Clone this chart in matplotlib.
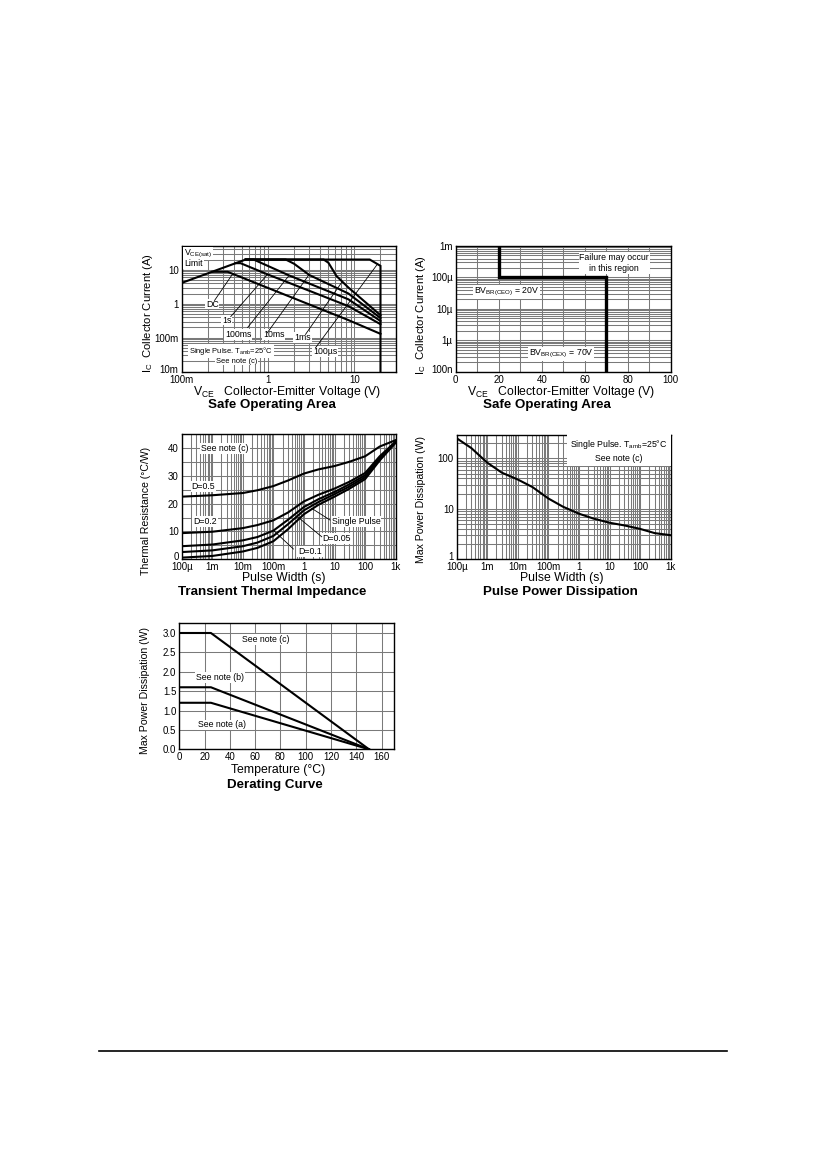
import numpy as np
import matplotlib.pyplot as plt
from matplotlib.ticker import LogLocator, MultipleLocator, NullFormatter
from matplotlib.lines import Line2D
from matplotlib.transforms import ScaledTranslation

plt.rcParams['font.family'] = ['Liberation Sans', 'DejaVu Sans']
plt.rcParams['mathtext.default'] = 'regular'

# ---- data ----
# safe operating area (log V, log I)
soa_100us_v = [0.1, 0.55, 15, 20, 20]
soa_100us_i = [4.1, 20, 20, 13, 0.01]
soa_1ms_v = [0.55, 4.4, 5.0, 6.2, 8.5, 20]
soa_1ms_i = [20, 20, 16, 6.5, 3.0, 0.46]
soa_10ms_v = [0.55, 1.6, 2.0, 3.0, 8.5, 20]
soa_10ms_i = [20, 20, 15, 7.0, 2.0, 0.38]
soa_100ms_v = [0.55, 0.68, 1.75, 8.5, 20]
soa_100ms_i = [20, 20, 6.8, 1.35, 0.31]
soa_1s_v = [0.42, 0.48, 1.0, 8.5, 20]
soa_1s_i = [15.6, 15.6, 7.2, 0.85, 0.25]
soa_dc_v = [0.224, 0.34, 8.5, 20]
soa_dc_i = [8.7, 8.7, 0.33, 0.13]

# breakdown boundary (linear V, log I)
bv_v = [20, 20, 70, 70]
bv_i = [1e-3, 1e-4, 1e-4, 1e-7]

# transient thermal impedance
tz_t = [1e-4, 1e-3, 1e-2, 3e-2, 1e-1, 3e-1, 1, 3, 10, 30, 100, 300, 1e3]
tz_d05 = [22.5, 23.0, 23.8, 24.8, 26.3, 28.3, 30.8, 32.3, 33.5, 35.0, 37.0, 40.5, 42.8]
tz_d02 = [9.4, 9.9, 11.2, 12.3, 14.0, 16.8, 20.8, 23.2, 25.4, 27.8, 31.0, 37.0, 42.3]
tz_d01 = [4.7, 5.3, 6.8, 8.0, 10.3, 14.2, 18.8, 21.6, 24.2, 26.9, 30.2, 36.5, 42.1]
tz_d005 = [2.6, 3.2, 4.7, 6.0, 8.4, 12.6, 17.6, 20.6, 23.4, 26.1, 29.5, 36.0, 42.0]
tz_single = [0.6, 1.2, 2.8, 4.1, 6.5, 10.8, 16.2, 19.6, 22.5, 25.3, 28.8, 35.5, 41.9]

# pulse power dissipation
pp_t = [1e-4, 3e-4, 1e-3, 3e-3, 1e-2, 3e-2, 1e-1, 3e-1, 1, 3, 10, 30, 100, 300, 1e3]
pp_p = [250, 160, 82, 52, 38, 27, 16, 11, 8.0, 6.4, 5.3, 4.7, 4.0, 3.3, 3.0]

# derating
der_t = [0, 25, 150]
der_c = [3.0, 3.0, 0]
der_b = [1.6, 1.6, 0]
der_a = [1.2, 1.2, 0]

log_t_ticks = [1e-4, 1e-3, 1e-2, 1e-1, 1, 10, 100, 1e3]
log_t_labels = ['100µ', '1m', '10m', '100m', '1', '10', '100', '1k']

W, H = 826, 1169
fig = plt.figure(figsize=(W / 100, H / 100), dpi=100)

GRID = dict(color='#7a7a7a', lw=0.75)
BOX = dict(fc='white', ec='none', pad=0.6)
TICK = 7
XLAB = 8.8
YLAB = 7.6
TITLE = 9.6
ANN = 6.3      # annotation size on most charts
ANN_C = 6.3    # curve labels on the left SOA chart
ANN_S = 5.4    # pulse / note text on the left SOA chart


def rect(l, r, t, b):
    return [l / W, 1 - b / H, (r - l) / W, (b - t) / H]


def ftext(x, y, s, **kw):
    fig.text(x / W, 1 - y / H, s, ha='center', va='center', **kw)


def base(ax):
    for sp in ax.spines.values():
        sp.set_linewidth(1.0)
    ax.tick_params(which='both', length=0, labelsize=TICK, pad=2.2)
    ax.set_axisbelow(True)


def logminor(axis):
    axis.set_minor_locator(LogLocator(base=10, subs=np.arange(2, 10), numticks=30))
    axis.set_minor_formatter(NullFormatter())


def lift_bottom_label(ax, dy=3):
    # the lowest y tick label sits a little above the corner, clear of the x labels
    lab = ax.yaxis.get_major_ticks()[0].label1
    lab.set_transform(lab.get_transform() + ScaledTranslation(0, dy / 100, fig.dpi_scale_trans))


# ---- Safe operating area (log) ----
ax1 = fig.add_axes(rect(181.7, 395.7, 246, 371.7))
base(ax1)
ax1.set_xscale('log'); ax1.set_yscale('log')
ax1.set_xlim(0.1, 30); ax1.set_ylim(0.01, 50)
ax1.set_xticks([0.1, 1, 10], ['100m', '1', '10'])
ax1.set_yticks([0.01, 0.1, 1, 10], ['10m', '100m', '1', '10'])
logminor(ax1.xaxis); logminor(ax1.yaxis)
ax1.grid(which='both', **GRID)
lift_bottom_label(ax1)
for v, i in [(soa_100us_v, soa_100us_i), (soa_1ms_v, soa_1ms_i), (soa_10ms_v, soa_10ms_i),
             (soa_100ms_v, soa_100ms_i), (soa_1s_v, soa_1s_i), (soa_dc_v, soa_dc_i)]:
    ax1.plot(v, i, color='black', lw=1.5, zorder=4, solid_joinstyle='miter')
# leader lines from labels to curves
leaders = [((0.24, 1.25), (0.39, 7.6)), ((0.37, 0.42), (0.98, 7.2)),
           ((0.58, 0.2), (1.75, 6.8)), ((0.98, 0.14), (2.96, 7.0)),
           ((2.71, 0.125), (7.13, 4.3)), ((3.53, 0.05), (18.4, 14.5))]
for (x0, y0), (x1, y1) in leaders:
    ax1.plot([x0, x1], [y0, y1], color='black', lw=0.6, zorder=4)
ax1.text(0.107, 30, r'V$_{CE(sat)}$', fontsize=ANN_C, va='center', bbox=BOX, zorder=3)
ax1.text(0.107, 15.0, 'Limit', fontsize=ANN_C, va='center', bbox=BOX, zorder=3)
for s, x, y in [('DC', 0.225, 0.98), ('1s', 0.33, 0.33), ('100ms', 0.45, 0.122),
                ('10ms', 1.16, 0.122), ('1ms', 2.5, 0.1), ('100µs', 4.6, 0.040)]:
    ax1.text(x, y, s, fontsize=ANN_C, ha='center', va='center', bbox=BOX, zorder=3)
ax1.text(0.374, 0.040, r'Single Pulse. T$_{amb}$=25°C', fontsize=ANN_S, ha='center',
         va='center', bbox=BOX, zorder=3)
ax1.text(0.43, 0.0205, 'See note (c)', fontsize=ANN_S, ha='center', va='center', bbox=BOX, zorder=3)
ftext(148, 313, r'I$_C$  Collector Current (A)', fontsize=8.1, rotation=90)
ftext(286.7, 392.5, r'V$_{CE}$   Collector-Emitter Voltage (V)', fontsize=XLAB)
ftext(272.3, 405, 'Safe Operating Area', fontsize=TITLE, fontweight='bold')

# ---- Safe operating area (linear V) ----
ax2 = fig.add_axes(rect(455.7, 670.7, 246, 371.7))
base(ax2)
ax2.set_yscale('log')
ax2.set_xlim(0, 100); ax2.set_ylim(1e-7, 1e-3)
ax2.set_xticks(range(0, 101, 20))
ax2.xaxis.set_minor_locator(MultipleLocator(10))
ax2.set_yticks([1e-7, 1e-6, 1e-5, 1e-4, 1e-3], ['100n', '1µ', '10µ', '100µ', '1m'])
logminor(ax2.yaxis)
ax2.grid(which='both', **GRID)
lift_bottom_label(ax2)
ax2.plot(bv_v, bv_i, color='black', lw=2.4, zorder=4, solid_joinstyle='miter')
ax2.text(73.8, 2.88e-4, 'Failure may occur\nin this region', fontsize=ANN, ha='center',
         va='center', linespacing=1.25, bbox=BOX, zorder=3)
ax2.text(23.7, 3.5e-5, r'BV$_{BR(CEO)}$ = 20V', fontsize=ANN, ha='center', va='center',
         bbox=BOX, zorder=3)
ax2.text(49, 3.6e-7, r'BV$_{BR(CEX)}$ = 70V', fontsize=ANN, ha='center', va='center',
         bbox=BOX, zorder=3)
ftext(421, 315, r'I$_C$  Collector Current (A)', fontsize=8.1, rotation=90)
ftext(560.7, 392.5, r'V$_{CE}$   Collector-Emitter Voltage (V)', fontsize=XLAB)
ftext(546.7, 405, 'Safe Operating Area', fontsize=TITLE, fontweight='bold')

# ---- Transient thermal impedance ----
ax3 = fig.add_axes(rect(181.7, 395.7, 434, 559.3))
base(ax3)
ax3.set_xscale('log')
ax3.set_xlim(1e-4, 1e3); ax3.set_ylim(0, 45)
ax3.set_xticks(log_t_ticks, log_t_labels)
logminor(ax3.xaxis)
ax3.set_yticks(range(0, 41, 10))
ax3.yaxis.set_minor_locator(MultipleLocator(5))
ax3.grid(which='both', **GRID)
lift_bottom_label(ax3)
for r in [tz_d05, tz_d02, tz_d01, tz_d005, tz_single]:
    ax3.plot(tz_t, r, color='black', lw=1.5, zorder=4)
for (x0, y0), (x1, y1) in [((7.1, 14.1), (1.79, 18.3)), ((3.8, 8.1), (0.58, 15.5)),
                           ((0.45, 3.7), (0.1, 10.4))]:
    ax3.plot([x0, x1], [y0, y1], color='black', lw=0.6, zorder=4)
for s, x, y in [('See note (c)', 2.6e-3, 39.9), ('D=0.5', 5.1e-4, 26.1), ('D=0.2', 5.8e-4, 13.5),
                ('Single Pulse', 50, 13.5), ('D=0.05', 11.7, 7.5), ('D=0.1', 1.57, 2.7)]:
    ax3.text(x, y, s, fontsize=ANN, ha='center', va='center', bbox=BOX, zorder=3)
ftext(146, 511, 'Thermal Resistance (°C/W)', fontsize=YLAB, rotation=90)
ftext(284, 578, 'Pulse Width (s)', fontsize=XLAB)
ftext(272.3, 592, 'Transient Thermal Impedance', fontsize=TITLE, fontweight='bold')

# ---- Pulse power dissipation ----
ax4 = fig.add_axes(rect(456.7, 670.7, 435, 559.3))
base(ax4)
ax4.set_xscale('log'); ax4.set_yscale('log')
ax4.set_xlim(1e-4, 1e3); ax4.set_ylim(1, 290)
ax4.set_xticks(log_t_ticks, log_t_labels)
ax4.set_yticks([1, 10, 100], ['1', '10', '100'])
logminor(ax4.xaxis); logminor(ax4.yaxis)
ax4.grid(which='both', **GRID)
lift_bottom_label(ax4)
ax4.plot(pp_t, pp_p, color='black', lw=1.5, zorder=4)
ax4.text(0.985, 0.975, r'Single Pulse. T$_{amb}$=25°C' + '\nSee note (c)', transform=ax4.transAxes,
         fontsize=ANN, ha='right', va='top', multialignment='center', linespacing=1.4,
         bbox=dict(fc='white', ec='none', pad=2.5), zorder=3)
ftext(421, 500, 'Max Power Dissipation (W)', fontsize=YLAB, rotation=90)
ftext(561.7, 578.5, 'Pulse Width (s)', fontsize=XLAB)
ftext(560.7, 592.5, 'Pulse Power Dissipation', fontsize=TITLE, fontweight='bold')

# ---- Derating curve ----
ax5 = fig.add_axes(rect(179.3, 394.3, 623.3, 749.3))
base(ax5)
ax5.set_xlim(0, 170); ax5.set_ylim(0, 3.25)
ax5.set_xticks(range(0, 161, 20))
ax5.set_yticks(np.arange(0, 3.01, 0.5), ['0.0', '0.5', '1.0', '1.5', '2.0', '2.5', '3.0'])
ax5.grid(**GRID)
for p in [der_c, der_b, der_a]:
    ax5.plot(der_t, p, color='black', lw=1.5, zorder=4)
for s, x, y in [('See note (c)', 68.3, 2.83), ('See note (b)', 32, 1.86), ('See note (a)', 33.4, 0.63)]:
    ax5.text(x, y, s, fontsize=ANN, ha='center', va='center', bbox=BOX, zorder=3)
ftext(145, 690, 'Max Power Dissipation (W)', fontsize=YLAB, rotation=90)
ftext(278.3, 769.5, 'Temperature (°C)', fontsize=XLAB)
ftext(275, 785, 'Derating Curve', fontsize=TITLE, fontweight='bold')

# page footer rule
fig.add_artist(Line2D([99 / W, 727 / W], [1 - 1051 / H] * 2, color='black', lw=1.2))

fig.savefig('out.png', dpi=100)
